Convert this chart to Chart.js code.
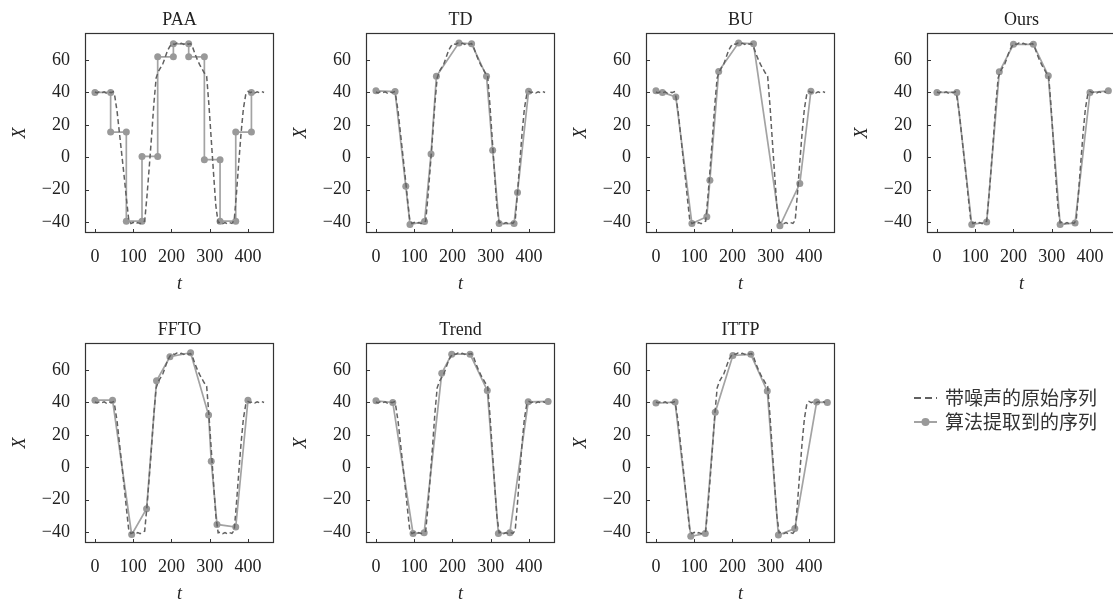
<!DOCTYPE html>
<html>
<head>
<meta charset="utf-8">
<script src="https://cdn.jsdelivr.net/npm/chart.js@4.4.0/dist/chart.umd.min.js"></script>
<style>
  html, body { margin: 0; padding: 0; background: #fff; overflow: hidden; width: 1113px; height: 600px; }
  canvas { position: absolute; }
</style>
</head>
<body>
<script>
// original noisy series (shared by every panel)
const origT = [0, 6, 12, 18, 24, 30, 36, 42, 48, 52, 58, 64, 70, 76, 82, 88, 94, 100, 106, 112, 118, 124, 130,
  136, 142, 148, 154, 160, 166, 172, 178, 184, 190, 196, 202, 208, 214, 220, 226, 232, 238, 244, 250, 256, 262,
  268, 274, 280, 286, 292, 298, 304, 310, 316, 322, 328, 334, 340, 346, 352, 358, 364, 370, 376, 382, 388, 394,
  400, 406, 412, 418, 424, 430, 436, 442];
const origX = [40.3, 39.7, 40.5, 39.8, 40.4, 39.6, 40.3, 39.9, 40.4, 37.5, 28, 15, 2, -11, -25, -38, -41, -40.3,
  -41.2, -40.4, -41, -40.2, -39.5, -24, -6, 13, 33, 49, 53, 55.5, 58, 62, 66, 68.5, 70.2, 69.6, 70.5, 69.8, 70.4,
  69.7, 70.5, 69.8, 70.2, 67.5, 63.5, 60, 57, 54.5, 52, 50, 32, 11, -10, -30, -40.5, -40.1, -41, -40.3, -41.1,
  -40.4, -40.9, -39, -22, -3, 15, 30, 38.5, 40.6, 39.8, 40.5, 39.7, 40.4, 39.8, 40.5, 40];

// extracted series per method
const paaT = [0, 41, 41, 82, 82, 123, 123, 164, 164, 205, 205, 245, 245, 286, 286, 327, 327, 368, 368, 409, 409];
const paaX = [40, 40, 15.5, 15.5, -39.5, -39.5, 0.5, 0.5, 62, 62, 70, 70, 62, 62, -1.5, -1.5, -39.5, -39.5, 15.5, 15.5, 40];
const tdT = [0, 50, 78, 89, 127, 144, 158, 217, 250, 289, 305, 322, 361, 370, 399];
const tdX = [41, 40.5, -18, -41.5, -39.7, 2, 50, 70.6, 70, 50, 4.3, -41, -41, -21.8, 40.8];
const buT = [0, 17, 52, 94, 133, 141, 164, 216, 255, 324, 376, 405];
const buX = [41, 40, 37.2, -41, -36.8, -14.2, 53, 70.6, 70, -42.4, -16.3, 40.8];
const oursT = [0, 52, 91, 130, 163, 200, 252, 291, 322, 361, 400, 448];
const oursX = [40, 40, -41.6, -40, 52.7, 69.7, 69.7, 50.3, -41.6, -40.6, 40, 41];
const fftoT = [0, 46, 96, 135, 161, 196, 250, 297, 304, 319, 368, 400];
const fftoX = [41.4, 41.4, -41.6, -25.6, 53.4, 68.2, 70.7, 32.2, 3.7, -35.3, -36.9, 41.4];
const trendT = [0, 44, 97, 126, 172, 198, 246, 291, 320, 350, 398, 450];
const trendX = [41, 40, -41, -40.4, 58, 69.8, 69.8, 47.4, -41, -40.4, 40.4, 40.6];
const ittpT = [0, 50, 91, 129, 155, 201, 248, 291, 320, 363, 420, 448];
const ittpX = [39.6, 40.2, -42.7, -41, 34, 69, 69.7, 47, -41.9, -37.9, 40.2, 40];

const methodNames = ['PAA', 'TD', 'BU', 'Ours', 'FFTO', 'Trend', 'ITTP'];
const xTicks = [0, 100, 200, 300, 400];
const yTicks = [-40, -20, 0, 20, 40, 60];
const seriesLabels = ['带噪声的原始序列', '算法提取到的序列'];

const panels = [
  { name: methodNames[0], t: paaT, x: paaX, left: 0, top: 0 },
  { name: methodNames[1], t: tdT, x: tdX, left: 281, top: 0 },
  { name: methodNames[2], t: buT, x: buX, left: 561, top: 0 },
  { name: methodNames[3], t: oursT, x: oursX, left: 842, top: 0 },
  { name: methodNames[4], t: fftoT, x: fftoX, left: 0, top: 310 },
  { name: methodNames[5], t: trendT, x: trendX, left: 281, top: 310 },
  { name: methodNames[6], t: ittpT, x: ittpX, left: 561, top: 310 }
];

const SERIF = "'Liberation Serif', 'DejaVu Serif', serif";
const FS = 18;
const DASH_COLOR = '#616161';
const LINE_COLOR = '#a3a3a3';
const DOT_COLOR = '#999999';

const toPts = (ts, xs) => ts.map((t, i) => ({ x: t, y: xs[i] }));
const minusSign = v => String(v).replace('-', '\u2212');

// box around the plot area, inward ticks, and the panel title centred on the plot
const framePlugin = {
  id: 'frame',
  afterDatasetsDraw(chart, args, opts) {
    const { ctx, chartArea: a, scales } = chart;
    ctx.save();
    ctx.strokeStyle = '#333';
    ctx.lineWidth = 1.2;
    ctx.strokeRect(a.left + 0.5, a.top + 0.5, a.right - a.left - 1, a.bottom - a.top - 1);
    ctx.lineWidth = 1;
    xTicks.forEach(v => {
      const px = Math.round(scales.x.getPixelForValue(v)) + 0.5;
      ctx.beginPath();
      ctx.moveTo(px, a.bottom);
      ctx.lineTo(px, a.bottom - 4);
      ctx.stroke();
    });
    yTicks.forEach(v => {
      const py = Math.round(scales.y.getPixelForValue(v)) + 0.5;
      ctx.beginPath();
      ctx.moveTo(a.left, py);
      ctx.lineTo(a.left + 4, py);
      ctx.stroke();
    });
    ctx.fillStyle = '#222';
    ctx.font = FS + 'px ' + SERIF;
    ctx.textAlign = 'center';
    ctx.textBaseline = 'middle';
    ctx.fillText(opts.text, (a.left + a.right) / 2, 20);
    ctx.restore();
  }
};

function makeCanvas(left, top, w, h) {
  const c = document.createElement('canvas');
  c.width = w; c.height = h;
  c.style.left = left + 'px'; c.style.top = top + 'px';
  c.style.width = w + 'px'; c.style.height = h + 'px';
  document.body.appendChild(c);
  return c;
}

panels.forEach(p => {
  const cv = makeCanvas(p.left, p.top, 280, 300);
  new Chart(cv.getContext('2d'), {
    type: 'line',
    data: {
      datasets: [{
        label: seriesLabels[0],
        data: toPts(origT, origX),
        borderColor: DASH_COLOR,
        borderWidth: 1.5,
        borderDash: [5, 3],
        pointRadius: 0,
        fill: false,
        tension: 0
      }, {
        label: seriesLabels[1],
        data: toPts(p.t, p.x),
        borderColor: LINE_COLOR,
        borderWidth: 1.7,
        pointRadius: 3.5,
        pointBackgroundColor: DOT_COLOR,
        pointBorderWidth: 0,
        fill: false,
        tension: 0
      }]
    },
    options: {
      responsive: false,
      animation: false,
      layout: { padding: { left: 0, right: 6, top: 33, bottom: 0 } },
      plugins: {
        legend: { display: false },
        tooltip: { enabled: false },
        title: { display: false },
        frame: { text: p.name }
      },
      scales: {
        x: {
          type: 'linear',
          min: -26, max: 468,
          grid: { display: false, drawTicks: false },
          border: { display: false },
          afterBuildTicks: s => { s.ticks = xTicks.map(v => ({ value: v })); },
          afterFit: s => { s.height = 67; },
          ticks: { color: '#222', padding: 13.5, font: { family: SERIF, size: FS }, callback: v => minusSign(v) },
          title: { display: true, text: 't', color: '#222', padding: { bottom: 4.5, top: 0 },
                   font: { family: SERIF, size: FS, style: 'italic' } }
        },
        y: {
          type: 'linear',
          min: -46.8, max: 76.7,
          grid: { display: false, drawTicks: false },
          border: { display: false },
          afterBuildTicks: s => { s.ticks = yTicks.map(v => ({ value: v })); },
          afterFit: s => { s.width = 85; },
          ticks: { color: '#222', padding: 15, font: { family: SERIF, size: FS }, callback: v => minusSign(v) },
          title: { display: true, text: 'X', color: '#222', padding: { top: 9, bottom: 0 },
                   font: { family: SERIF, size: FS, style: 'italic' } }
        }
      }
    },
    plugins: [framePlugin]
  });
});

// legend panel (bottom right)
const legendPlugin = {
  id: 'legendDraw',
  afterDraw(chart) {
    const ctx = chart.ctx;
    ctx.save();
    chart.data.datasets.forEach((ds, i) => {
      const y = 18 + i * 24;
      ctx.strokeStyle = ds.borderColor;
      ctx.lineWidth = ds.borderWidth;
      ctx.setLineDash(ds.borderDash || []);
      ctx.beginPath();
      ctx.moveTo(14, y);
      ctx.lineTo(37, y);
      ctx.stroke();
      ctx.setLineDash([]);
      if (ds.pointRadius) {
        ctx.fillStyle = ds.pointBackgroundColor;
        ctx.beginPath();
        ctx.arc(25.5, y, ds.pointRadius, 0, Math.PI * 2);
        ctx.fill();
      }
      ctx.fillStyle = '#333';
      ctx.font = "19px 'Noto Sans CJK SC'";
      ctx.textBaseline = 'middle';
      ctx.fillText(ds.label, 45, y);
    });
    ctx.restore();
  }
};

const lg = makeCanvas(900, 380, 213, 60);
new Chart(lg.getContext('2d'), {
  type: 'line',
  data: {
    datasets: [
      { label: seriesLabels[0], data: [], borderColor: DASH_COLOR, borderWidth: 2, borderDash: [7, 4], pointRadius: 0 },
      { label: seriesLabels[1], data: [], borderColor: LINE_COLOR, borderWidth: 2, pointRadius: 4, pointBackgroundColor: DOT_COLOR }
    ]
  },
  options: {
    responsive: false,
    animation: false,
    plugins: { legend: { display: false }, tooltip: { enabled: false } },
    scales: { x: { display: false }, y: { display: false } }
  },
  plugins: [legendPlugin]
});
</script>
</body>
</html>
